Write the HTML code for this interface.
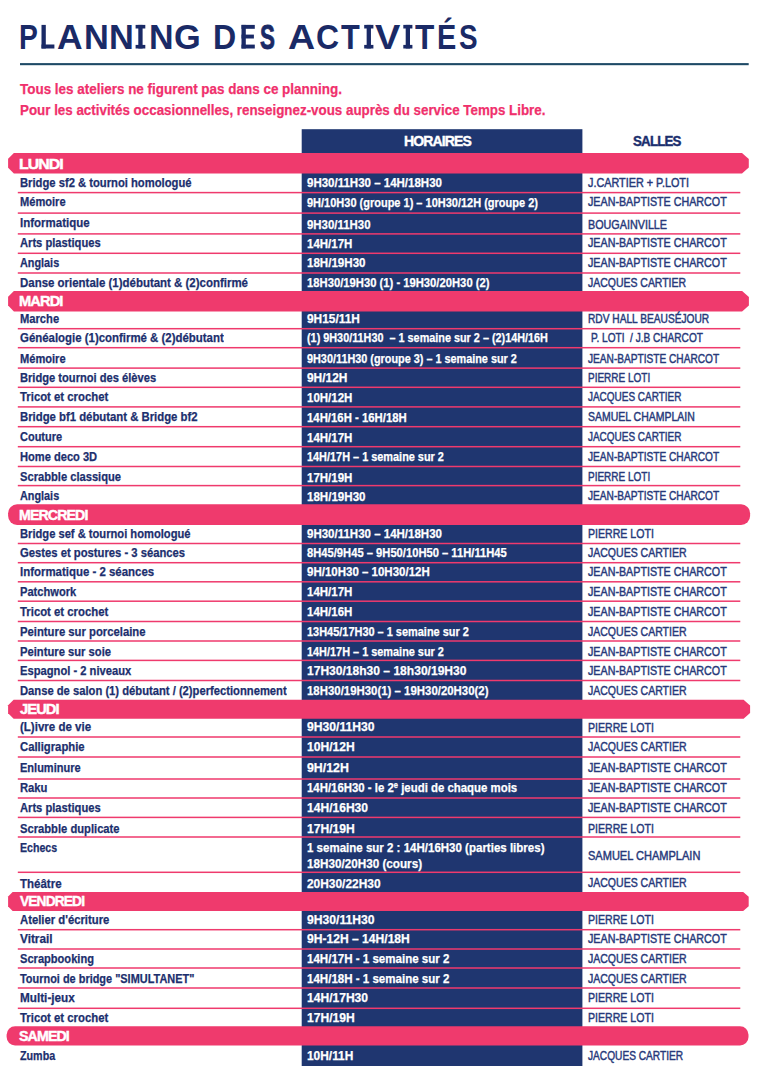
<!DOCTYPE html>
<html lang="fr"><head><meta charset="utf-8"><title>Planning des activit&eacute;s</title>
<style>
html,body{margin:0;padding:0;background:#fff;}
body{width:764px;height:1081px;position:relative;overflow:hidden;font-family:"Liberation Sans",sans-serif;}
.t{position:absolute;white-space:pre;line-height:1;transform-origin:0 50%;display:block;}
.b{position:absolute;}
</style></head><body>

<svg class="b" style="left:0;top:0" width="764" height="1081" viewBox="0 0 764 1081">
<rect x="20.00" y="63.10" width="728.70" height="2.10" fill="#1e4a66"/>
<rect x="41.50" y="24.90" width="4.30" height="23.60" fill="#1a2a66"/>
<rect x="41.50" y="44.50" width="12.90" height="4.00" fill="#1a2a66"/>
<rect x="241.50" y="24.90" width="4.30" height="23.60" fill="#1a2a66"/>
<rect x="241.50" y="24.90" width="13.30" height="3.90" fill="#1a2a66"/>
<rect x="241.50" y="34.60" width="12.40" height="3.90" fill="#1a2a66"/>
<rect x="241.50" y="44.60" width="13.30" height="3.90" fill="#1a2a66"/>
<rect x="138.30" y="24.90" width="4.30" height="23.60" fill="#1a2a66"/>
<rect x="135.60" y="24.90" width="9.70" height="3.60" fill="#1a2a66"/>
<rect x="135.60" y="44.90" width="9.70" height="3.60" fill="#1a2a66"/>
<rect x="366.65" y="24.90" width="4.30" height="23.60" fill="#1a2a66"/>
<rect x="364.20" y="24.90" width="9.20" height="3.60" fill="#1a2a66"/>
<rect x="364.20" y="44.90" width="9.20" height="3.60" fill="#1a2a66"/>
<rect x="405.70" y="24.90" width="4.30" height="23.60" fill="#1a2a66"/>
<rect x="403.30" y="24.90" width="9.10" height="3.60" fill="#1a2a66"/>
<rect x="403.30" y="44.90" width="9.10" height="3.60" fill="#1a2a66"/>
<rect x="301.70" y="129.20" width="280.70" height="936.80" fill="#1f3670"/>
<polygon fill="#ef3a6d" points="13.90,153.00 742.00,153.00 748.80,159.00 748.80,167.50 742.00,173.50 13.90,173.50 8.10,167.70 8.10,158.80"/>
<rect x="17.80" y="191.85" width="722.50" height="1.50" fill="#ef3a6d"/>
<rect x="17.80" y="212.35" width="722.50" height="1.50" fill="#ef3a6d"/>
<rect x="17.80" y="233.15" width="722.50" height="1.50" fill="#ef3a6d"/>
<rect x="17.80" y="252.55" width="722.50" height="1.50" fill="#ef3a6d"/>
<rect x="17.80" y="272.25" width="722.50" height="1.50" fill="#ef3a6d"/>
<polygon fill="#ef3a6d" points="13.90,291.00 742.10,291.00 748.90,297.00 748.90,305.40 742.10,311.40 13.90,311.40 8.10,305.60 8.10,296.80"/>
<rect x="17.80" y="327.95" width="722.50" height="1.50" fill="#ef3a6d"/>
<rect x="17.80" y="346.95" width="722.50" height="1.50" fill="#ef3a6d"/>
<rect x="17.80" y="367.35" width="722.50" height="1.50" fill="#ef3a6d"/>
<rect x="17.80" y="386.55" width="722.50" height="1.50" fill="#ef3a6d"/>
<rect x="17.80" y="406.15" width="722.50" height="1.50" fill="#ef3a6d"/>
<rect x="17.80" y="425.95" width="722.50" height="1.50" fill="#ef3a6d"/>
<rect x="17.80" y="445.95" width="722.50" height="1.50" fill="#ef3a6d"/>
<rect x="17.80" y="465.75" width="722.50" height="1.50" fill="#ef3a6d"/>
<rect x="17.80" y="484.85" width="722.50" height="1.50" fill="#ef3a6d"/>
<rect x="8.10" y="504.30" width="742.00" height="20.60" fill="#ef3a6d" rx="9"/>
<rect x="17.80" y="542.75" width="722.50" height="1.50" fill="#ef3a6d"/>
<rect x="17.80" y="561.95" width="722.50" height="1.50" fill="#ef3a6d"/>
<rect x="17.80" y="581.05" width="722.50" height="1.50" fill="#ef3a6d"/>
<rect x="17.80" y="600.45" width="722.50" height="1.50" fill="#ef3a6d"/>
<rect x="17.80" y="620.75" width="722.50" height="1.50" fill="#ef3a6d"/>
<rect x="17.80" y="640.25" width="722.50" height="1.50" fill="#ef3a6d"/>
<rect x="17.80" y="659.65" width="722.50" height="1.50" fill="#ef3a6d"/>
<rect x="17.80" y="679.75" width="722.50" height="1.50" fill="#ef3a6d"/>
<polygon fill="#ef3a6d" points="13.60,699.70 743.60,699.70 750.10,705.40 750.10,713.10 743.60,718.80 13.60,718.80 8.10,713.30 8.10,705.20"/>
<rect x="17.80" y="736.25" width="722.50" height="1.50" fill="#ef3a6d"/>
<rect x="17.80" y="756.25" width="722.50" height="1.50" fill="#ef3a6d"/>
<rect x="17.80" y="778.25" width="722.50" height="1.50" fill="#ef3a6d"/>
<rect x="17.80" y="797.25" width="722.50" height="1.50" fill="#ef3a6d"/>
<rect x="17.80" y="816.65" width="722.50" height="1.50" fill="#ef3a6d"/>
<rect x="17.80" y="836.25" width="722.50" height="1.50" fill="#ef3a6d"/>
<rect x="17.80" y="871.55" width="722.50" height="1.50" fill="#ef3a6d"/>
<polygon fill="#ef3a6d" points="12.60,892.00 743.20,892.00 748.70,896.70 748.70,906.30 743.20,911.00 12.60,911.00 8.10,906.50 8.10,896.50"/>
<rect x="17.80" y="928.95" width="722.50" height="1.50" fill="#ef3a6d"/>
<rect x="17.80" y="948.25" width="722.50" height="1.50" fill="#ef3a6d"/>
<rect x="17.80" y="967.25" width="722.50" height="1.50" fill="#ef3a6d"/>
<rect x="17.80" y="987.25" width="722.50" height="1.50" fill="#ef3a6d"/>
<rect x="17.80" y="1007.55" width="722.50" height="1.50" fill="#ef3a6d"/>
<rect x="6.60" y="1026.30" width="741.90" height="19.30" fill="#ef3a6d" rx="8.5"/>
</svg>
<span class="t" style="left:18.61px;top:19.50px;font-size:34.2px;color:#1a2a66;font-weight:bold;transform-origin:0 50%;transform:scaleX(0.8267);">P</span>
<span class="t" style="left:56.82px;top:19.50px;font-size:34.2px;color:#1a2a66;font-weight:bold;transform-origin:0 50%;transform:scaleX(1.0373);">A</span>
<span class="t" style="left:84.10px;top:19.50px;font-size:34.2px;color:#1a2a66;font-weight:bold;transform-origin:0 50%;transform:scaleX(1.0047);">N</span>
<span class="t" style="left:109.30px;top:19.50px;font-size:34.2px;color:#1a2a66;font-weight:bold;transform-origin:0 50%;transform:scaleX(1.0047);">N</span>
<span class="t" style="left:148.92px;top:19.50px;font-size:34.2px;color:#1a2a66;font-weight:bold;transform-origin:0 50%;transform:scaleX(0.9947);">N</span>
<span class="t" style="left:173.89px;top:19.50px;font-size:34.2px;color:#1a2a66;font-weight:bold;transform-origin:0 50%;transform:scaleX(1.0053);">G</span>
<span class="t" style="left:213.45px;top:19.50px;font-size:34.2px;color:#1a2a66;font-weight:bold;transform-origin:0 50%;transform:scaleX(0.9392);">D</span>
<span class="t" style="left:260.15px;top:19.50px;font-size:34.2px;color:#1a2a66;font-weight:bold;-webkit-text-stroke:0.9px #1a2a66;transform-origin:0 50%;transform:scaleX(0.6545);">S</span>
<span class="t" style="left:288.46px;top:19.50px;font-size:34.2px;color:#1a2a66;font-weight:bold;transform-origin:0 50%;transform:scaleX(1.0983);">A</span>
<span class="t" style="left:315.99px;top:19.50px;font-size:34.2px;color:#1a2a66;font-weight:bold;transform-origin:0 50%;transform:scaleX(0.9347);">C</span>
<span class="t" style="left:340.85px;top:19.50px;font-size:34.2px;color:#1a2a66;font-weight:bold;transform-origin:0 50%;transform:scaleX(0.8987);">T</span>
<span class="t" style="left:374.94px;top:19.50px;font-size:34.2px;color:#1a2a66;font-weight:bold;transform-origin:0 50%;transform:scaleX(1.1099);">V</span>
<span class="t" style="left:414.85px;top:19.50px;font-size:34.2px;color:#1a2a66;font-weight:bold;transform-origin:0 50%;transform:scaleX(0.9236);">T</span>
<span class="t" style="left:436.57px;top:19.50px;font-size:34.2px;color:#1a2a66;font-weight:bold;transform-origin:0 50%;transform:scaleX(0.8443);">É</span>
<span class="t" style="left:459.20px;top:19.50px;font-size:34.2px;color:#1a2a66;font-weight:bold;transform-origin:0 50%;transform:scaleX(0.8150);">S</span>
<span class="t" style="left:20.26px;top:81.26px;font-size:15.2px;color:#f0306c;font-weight:bold;transform:scaleX(0.8856);-webkit-text-stroke:0.25px #f0306c;">Tous les ateliers ne figurent pas dans ce planning.</span>
<span class="t" style="left:19.52px;top:101.96px;font-size:15.2px;color:#f0306c;font-weight:bold;transform:scaleX(0.8797);-webkit-text-stroke:0.25px #f0306c;">Pour les activités occasionnelles, renseignez-vous auprès du service Temps Libre.</span>
<span class="t" style="left:404.45px;top:134.26px;font-size:14.6px;color:#fff;font-weight:bold;transform:scaleX(0.9595);-webkit-text-stroke:0.4px #fff;letter-spacing:-0.9px;">HORAIRES</span>
<span class="t" style="left:633.10px;top:134.26px;font-size:14.6px;color:#1c2f6e;font-weight:bold;transform:scaleX(0.9142);-webkit-text-stroke:0.4px #1c2f6e;letter-spacing:-0.9px;">SALLES</span>
<span class="t" style="left:18.79px;top:156.56px;font-size:14.3px;color:#fff;font-weight:bold;transform:scaleX(1.1132);-webkit-text-stroke:0.45px #fff;letter-spacing:-0.9px;">LUNDI</span>
<span class="t" style="left:19.65px;top:176.97px;font-size:12.4px;color:#1c2f6e;font-weight:bold;transform:scaleX(0.9059);-webkit-text-stroke:0.25px #1c2f6e;">Bridge sf2 &amp; tournoi homologué</span>
<span class="t" style="left:306.80px;top:177.47px;font-size:12.4px;color:#fff;font-weight:bold;transform:scaleX(0.9284);-webkit-text-stroke:0.25px #fff;">9H30/11H30 – 14H/18H30</span>
<span class="t" style="left:587.90px;top:176.97px;font-size:12.4px;color:#27397a;font-weight:normal;transform:scaleX(0.8737);-webkit-text-stroke:0.45px #27397a;">J.CARTIER + P.LOTI</span>
<span class="t" style="left:19.65px;top:195.57px;font-size:12.4px;color:#1c2f6e;font-weight:bold;transform:scaleX(0.8946);-webkit-text-stroke:0.25px #1c2f6e;">Mémoire</span>
<span class="t" style="left:306.80px;top:196.57px;font-size:12.4px;color:#fff;font-weight:bold;transform:scaleX(0.8873);-webkit-text-stroke:0.25px #fff;">9H/10H30 (groupe 1) – 10H30/12H (groupe 2)</span>
<span class="t" style="left:587.90px;top:195.57px;font-size:12.4px;color:#27397a;font-weight:normal;transform:scaleX(0.8646);-webkit-text-stroke:0.45px #27397a;">JEAN-BAPTISTE CHARCOT</span>
<span class="t" style="left:19.65px;top:217.47px;font-size:12.4px;color:#1c2f6e;font-weight:bold;transform:scaleX(0.9272);-webkit-text-stroke:0.25px #1c2f6e;">Informatique</span>
<span class="t" style="left:306.80px;top:218.67px;font-size:12.4px;color:#fff;font-weight:bold;transform:scaleX(0.9218);-webkit-text-stroke:0.25px #fff;">9H30/11H30</span>
<span class="t" style="left:587.90px;top:218.67px;font-size:12.4px;color:#27397a;font-weight:normal;transform:scaleX(0.8697);-webkit-text-stroke:0.45px #27397a;">BOUGAINVILLE</span>
<span class="t" style="left:19.65px;top:237.07px;font-size:12.4px;color:#1c2f6e;font-weight:bold;transform:scaleX(0.9008);-webkit-text-stroke:0.25px #1c2f6e;">Arts plastiques</span>
<span class="t" style="left:306.80px;top:237.57px;font-size:12.4px;color:#fff;font-weight:bold;transform:scaleX(0.9268);-webkit-text-stroke:0.25px #fff;">14H/17H</span>
<span class="t" style="left:587.90px;top:237.07px;font-size:12.4px;color:#27397a;font-weight:normal;transform:scaleX(0.8646);-webkit-text-stroke:0.45px #27397a;">JEAN-BAPTISTE CHARCOT</span>
<span class="t" style="left:19.65px;top:256.57px;font-size:12.4px;color:#1c2f6e;font-weight:bold;transform:scaleX(0.8749);-webkit-text-stroke:0.25px #1c2f6e;">Anglais</span>
<span class="t" style="left:306.80px;top:257.07px;font-size:12.4px;color:#fff;font-weight:bold;transform:scaleX(0.9334);-webkit-text-stroke:0.25px #fff;">18H/19H30</span>
<span class="t" style="left:587.90px;top:256.57px;font-size:12.4px;color:#27397a;font-weight:normal;transform:scaleX(0.8646);-webkit-text-stroke:0.45px #27397a;">JEAN-BAPTISTE CHARCOT</span>
<span class="t" style="left:19.65px;top:276.77px;font-size:12.4px;color:#1c2f6e;font-weight:bold;transform:scaleX(0.9248);-webkit-text-stroke:0.25px #1c2f6e;">Danse orientale (1)débutant &amp; (2)confirmé</span>
<span class="t" style="left:306.80px;top:277.27px;font-size:12.4px;color:#fff;font-weight:bold;transform:scaleX(0.9074);-webkit-text-stroke:0.25px #fff;">18H30/19H30 (1) - 19H30/20H30 (2)</span>
<span class="t" style="left:587.90px;top:276.77px;font-size:12.4px;color:#27397a;font-weight:normal;transform:scaleX(0.8445);-webkit-text-stroke:0.45px #27397a;">JACQUES CARTIER</span>
<span class="t" style="left:18.85px;top:294.41px;font-size:14.3px;color:#fff;font-weight:bold;transform:scaleX(1.0262);-webkit-text-stroke:0.45px #fff;letter-spacing:-0.9px;">MARDI</span>
<span class="t" style="left:19.65px;top:313.07px;font-size:12.4px;color:#1c2f6e;font-weight:bold;transform:scaleX(0.9010);-webkit-text-stroke:0.25px #1c2f6e;">Marche</span>
<span class="t" style="left:306.80px;top:313.07px;font-size:12.4px;color:#fff;font-weight:bold;transform:scaleX(0.9588);-webkit-text-stroke:0.25px #fff;">9H15/11H</span>
<span class="t" style="left:587.90px;top:313.07px;font-size:12.4px;color:#27397a;font-weight:normal;transform:scaleX(0.8208);-webkit-text-stroke:0.45px #27397a;">RDV HALL BEAUSÉJOUR</span>
<span class="t" style="left:19.65px;top:332.07px;font-size:12.4px;color:#1c2f6e;font-weight:bold;transform:scaleX(0.9218);-webkit-text-stroke:0.25px #1c2f6e;">Généalogie (1)confirmé &amp; (2)débutant</span>
<span class="t" style="left:306.80px;top:332.37px;font-size:12.4px;color:#fff;font-weight:bold;transform:scaleX(0.8745);-webkit-text-stroke:0.25px #fff;">(1) 9H30/11H30  – 1 semaine sur 2 – (2)14H/16H</span>
<span class="t" style="left:590.70px;top:332.07px;font-size:12.4px;color:#27397a;font-weight:normal;transform:scaleX(0.8141);-webkit-text-stroke:0.45px #27397a;">P. LOTI  / J.B CHARCOT</span>
<span class="t" style="left:19.65px;top:352.87px;font-size:12.4px;color:#1c2f6e;font-weight:bold;transform:scaleX(0.8946);-webkit-text-stroke:0.25px #1c2f6e;">Mémoire</span>
<span class="t" style="left:306.80px;top:352.87px;font-size:12.4px;color:#fff;font-weight:bold;transform:scaleX(0.8756);-webkit-text-stroke:0.25px #fff;">9H30/11H30 (groupe 3) – 1 semaine sur 2</span>
<span class="t" style="left:587.90px;top:352.87px;font-size:12.4px;color:#27397a;font-weight:normal;transform:scaleX(0.8172);-webkit-text-stroke:0.45px #27397a;">JEAN-BAPTISTE CHARCOT</span>
<span class="t" style="left:19.65px;top:371.57px;font-size:12.4px;color:#1c2f6e;font-weight:bold;transform:scaleX(0.8984);-webkit-text-stroke:0.25px #1c2f6e;">Bridge tournoi des élèves</span>
<span class="t" style="left:306.80px;top:372.17px;font-size:12.4px;color:#fff;font-weight:bold;transform:scaleX(0.9605);-webkit-text-stroke:0.25px #fff;">9H/12H</span>
<span class="t" style="left:587.90px;top:371.57px;font-size:12.4px;color:#27397a;font-weight:normal;transform:scaleX(0.8071);-webkit-text-stroke:0.45px #27397a;">PIERRE LOTI</span>
<span class="t" style="left:19.65px;top:390.97px;font-size:12.4px;color:#1c2f6e;font-weight:bold;transform:scaleX(0.9161);-webkit-text-stroke:0.25px #1c2f6e;">Tricot et crochet</span>
<span class="t" style="left:306.80px;top:391.77px;font-size:12.4px;color:#fff;font-weight:bold;transform:scaleX(0.9268);-webkit-text-stroke:0.25px #fff;">10H/12H</span>
<span class="t" style="left:587.90px;top:390.97px;font-size:12.4px;color:#27397a;font-weight:normal;transform:scaleX(0.8039);-webkit-text-stroke:0.45px #27397a;">JACQUES CARTIER</span>
<span class="t" style="left:19.65px;top:411.47px;font-size:12.4px;color:#1c2f6e;font-weight:bold;transform:scaleX(0.9146);-webkit-text-stroke:0.25px #1c2f6e;">Bridge bf1 débutant &amp; Bridge bf2</span>
<span class="t" style="left:306.80px;top:412.07px;font-size:12.4px;color:#fff;font-weight:bold;transform:scaleX(0.9169);-webkit-text-stroke:0.25px #fff;">14H/16H - 16H/18H</span>
<span class="t" style="left:587.90px;top:411.47px;font-size:12.4px;color:#27397a;font-weight:normal;transform:scaleX(0.8455);-webkit-text-stroke:0.45px #27397a;">SAMUEL CHAMPLAIN</span>
<span class="t" style="left:19.65px;top:431.07px;font-size:12.4px;color:#1c2f6e;font-weight:bold;transform:scaleX(0.8861);-webkit-text-stroke:0.25px #1c2f6e;">Couture</span>
<span class="t" style="left:306.80px;top:431.67px;font-size:12.4px;color:#fff;font-weight:bold;transform:scaleX(0.9268);-webkit-text-stroke:0.25px #fff;">14H/17H</span>
<span class="t" style="left:587.90px;top:431.07px;font-size:12.4px;color:#27397a;font-weight:normal;transform:scaleX(0.8039);-webkit-text-stroke:0.45px #27397a;">JACQUES CARTIER</span>
<span class="t" style="left:19.65px;top:450.87px;font-size:12.4px;color:#1c2f6e;font-weight:bold;transform:scaleX(0.8963);-webkit-text-stroke:0.25px #1c2f6e;">Home deco 3D</span>
<span class="t" style="left:306.80px;top:450.87px;font-size:12.4px;color:#fff;font-weight:bold;transform:scaleX(0.8796);-webkit-text-stroke:0.25px #fff;">14H/17H – 1 semaine sur 2</span>
<span class="t" style="left:587.90px;top:450.87px;font-size:12.4px;color:#27397a;font-weight:normal;transform:scaleX(0.8172);-webkit-text-stroke:0.45px #27397a;">JEAN-BAPTISTE CHARCOT</span>
<span class="t" style="left:19.65px;top:471.07px;font-size:12.4px;color:#1c2f6e;font-weight:bold;transform:scaleX(0.9001);-webkit-text-stroke:0.25px #1c2f6e;">Scrabble classique</span>
<span class="t" style="left:306.80px;top:471.77px;font-size:12.4px;color:#fff;font-weight:bold;transform:scaleX(0.9268);-webkit-text-stroke:0.25px #fff;">17H/19H</span>
<span class="t" style="left:587.90px;top:471.07px;font-size:12.4px;color:#27397a;font-weight:normal;transform:scaleX(0.8071);-webkit-text-stroke:0.45px #27397a;">PIERRE LOTI</span>
<span class="t" style="left:19.65px;top:490.37px;font-size:12.4px;color:#1c2f6e;font-weight:bold;transform:scaleX(0.8749);-webkit-text-stroke:0.25px #1c2f6e;">Anglais</span>
<span class="t" style="left:306.80px;top:491.07px;font-size:12.4px;color:#fff;font-weight:bold;transform:scaleX(0.9334);-webkit-text-stroke:0.25px #fff;">18H/19H30</span>
<span class="t" style="left:587.90px;top:490.37px;font-size:12.4px;color:#27397a;font-weight:normal;transform:scaleX(0.8172);-webkit-text-stroke:0.45px #27397a;">JEAN-BAPTISTE CHARCOT</span>
<span class="t" style="left:18.87px;top:507.56px;font-size:14.3px;color:#fff;font-weight:bold;transform:scaleX(0.9911);-webkit-text-stroke:0.45px #fff;letter-spacing:-0.9px;">MERCREDI</span>
<span class="t" style="left:19.65px;top:527.57px;font-size:12.4px;color:#1c2f6e;font-weight:bold;transform:scaleX(0.9006);-webkit-text-stroke:0.25px #1c2f6e;">Bridge sef &amp; tournoi homologué</span>
<span class="t" style="left:306.80px;top:527.57px;font-size:12.4px;color:#fff;font-weight:bold;transform:scaleX(0.9284);-webkit-text-stroke:0.25px #fff;">9H30/11H30 – 14H/18H30</span>
<span class="t" style="left:587.90px;top:527.57px;font-size:12.4px;color:#27397a;font-weight:normal;transform:scaleX(0.8543);-webkit-text-stroke:0.45px #27397a;">PIERRE LOTI</span>
<span class="t" style="left:19.65px;top:546.87px;font-size:12.4px;color:#1c2f6e;font-weight:bold;transform:scaleX(0.9079);-webkit-text-stroke:0.25px #1c2f6e;">Gestes et postures - 3 séances</span>
<span class="t" style="left:306.80px;top:546.87px;font-size:12.4px;color:#fff;font-weight:bold;transform:scaleX(0.9033);-webkit-text-stroke:0.25px #fff;">8H45/9H45 – 9H50/10H50 – 11H/11H45</span>
<span class="t" style="left:587.90px;top:546.87px;font-size:12.4px;color:#27397a;font-weight:normal;transform:scaleX(0.8488);-webkit-text-stroke:0.45px #27397a;">JACQUES CARTIER</span>
<span class="t" style="left:19.65px;top:566.07px;font-size:12.4px;color:#1c2f6e;font-weight:bold;transform:scaleX(0.9230);-webkit-text-stroke:0.25px #1c2f6e;">Informatique - 2 séances</span>
<span class="t" style="left:306.80px;top:566.07px;font-size:12.4px;color:#fff;font-weight:bold;transform:scaleX(0.9282);-webkit-text-stroke:0.25px #fff;">9H/10H30 – 10H30/12H</span>
<span class="t" style="left:587.90px;top:566.07px;font-size:12.4px;color:#27397a;font-weight:normal;transform:scaleX(0.8646);-webkit-text-stroke:0.45px #27397a;">JEAN-BAPTISTE CHARCOT</span>
<span class="t" style="left:19.65px;top:586.27px;font-size:12.4px;color:#1c2f6e;font-weight:bold;transform:scaleX(0.8966);-webkit-text-stroke:0.25px #1c2f6e;">Patchwork</span>
<span class="t" style="left:306.80px;top:586.27px;font-size:12.4px;color:#fff;font-weight:bold;transform:scaleX(0.9268);-webkit-text-stroke:0.25px #fff;">14H/17H</span>
<span class="t" style="left:587.90px;top:586.27px;font-size:12.4px;color:#27397a;font-weight:normal;transform:scaleX(0.8646);-webkit-text-stroke:0.45px #27397a;">JEAN-BAPTISTE CHARCOT</span>
<span class="t" style="left:19.65px;top:606.07px;font-size:12.4px;color:#1c2f6e;font-weight:bold;transform:scaleX(0.9161);-webkit-text-stroke:0.25px #1c2f6e;">Tricot et crochet</span>
<span class="t" style="left:306.80px;top:606.07px;font-size:12.4px;color:#fff;font-weight:bold;transform:scaleX(0.9268);-webkit-text-stroke:0.25px #fff;">14H/16H</span>
<span class="t" style="left:587.90px;top:606.07px;font-size:12.4px;color:#27397a;font-weight:normal;transform:scaleX(0.8646);-webkit-text-stroke:0.45px #27397a;">JEAN-BAPTISTE CHARCOT</span>
<span class="t" style="left:19.65px;top:625.57px;font-size:12.4px;color:#1c2f6e;font-weight:bold;transform:scaleX(0.9115);-webkit-text-stroke:0.25px #1c2f6e;">Peinture sur porcelaine</span>
<span class="t" style="left:306.80px;top:625.57px;font-size:12.4px;color:#fff;font-weight:bold;transform:scaleX(0.8836);-webkit-text-stroke:0.25px #fff;">13H45/17H30 – 1 semaine sur 2</span>
<span class="t" style="left:587.90px;top:625.57px;font-size:12.4px;color:#27397a;font-weight:normal;transform:scaleX(0.8488);-webkit-text-stroke:0.45px #27397a;">JACQUES CARTIER</span>
<span class="t" style="left:19.65px;top:645.77px;font-size:12.4px;color:#1c2f6e;font-weight:bold;transform:scaleX(0.9057);-webkit-text-stroke:0.25px #1c2f6e;">Peinture sur soie</span>
<span class="t" style="left:306.80px;top:645.77px;font-size:12.4px;color:#fff;font-weight:bold;transform:scaleX(0.8796);-webkit-text-stroke:0.25px #fff;">14H/17H – 1 semaine sur 2</span>
<span class="t" style="left:587.90px;top:645.77px;font-size:12.4px;color:#27397a;font-weight:normal;transform:scaleX(0.8646);-webkit-text-stroke:0.45px #27397a;">JEAN-BAPTISTE CHARCOT</span>
<span class="t" style="left:19.65px;top:665.07px;font-size:12.4px;color:#1c2f6e;font-weight:bold;transform:scaleX(0.9025);-webkit-text-stroke:0.25px #1c2f6e;">Espagnol - 2 niveaux</span>
<span class="t" style="left:306.80px;top:665.07px;font-size:12.4px;color:#fff;font-weight:bold;transform:scaleX(0.9725);-webkit-text-stroke:0.25px #fff;">17H30/18h30 – 18h30/19H30</span>
<span class="t" style="left:587.90px;top:665.07px;font-size:12.4px;color:#27397a;font-weight:normal;transform:scaleX(0.8646);-webkit-text-stroke:0.45px #27397a;">JEAN-BAPTISTE CHARCOT</span>
<span class="t" style="left:19.65px;top:684.97px;font-size:12.4px;color:#1c2f6e;font-weight:bold;transform:scaleX(0.9050);-webkit-text-stroke:0.25px #1c2f6e;">Danse de salon (1) débutant / (2)perfectionnement</span>
<span class="t" style="left:306.80px;top:684.97px;font-size:12.4px;color:#fff;font-weight:bold;transform:scaleX(0.9214);-webkit-text-stroke:0.25px #fff;">18H30/19H30(1) – 19H30/20H30(2)</span>
<span class="t" style="left:587.90px;top:684.97px;font-size:12.4px;color:#27397a;font-weight:normal;transform:scaleX(0.8488);-webkit-text-stroke:0.45px #27397a;">JACQUES CARTIER</span>
<span class="t" style="left:19.61px;top:701.71px;font-size:14.3px;color:#fff;font-weight:bold;transform:scaleX(1.0292);-webkit-text-stroke:0.45px #fff;letter-spacing:-0.9px;">JEUDI</span>
<span class="t" style="left:19.65px;top:720.97px;font-size:12.4px;color:#1c2f6e;font-weight:bold;transform:scaleX(0.9298);-webkit-text-stroke:0.25px #1c2f6e;">(L)ivre de vie</span>
<span class="t" style="left:306.80px;top:720.97px;font-size:12.4px;color:#fff;font-weight:bold;transform:scaleX(0.9801);-webkit-text-stroke:0.25px #fff;">9H30/11H30</span>
<span class="t" style="left:587.90px;top:721.67px;font-size:12.4px;color:#27397a;font-weight:normal;transform:scaleX(0.8543);-webkit-text-stroke:0.45px #27397a;">PIERRE LOTI</span>
<span class="t" style="left:19.65px;top:740.97px;font-size:12.4px;color:#1c2f6e;font-weight:bold;transform:scaleX(0.9105);-webkit-text-stroke:0.25px #1c2f6e;">Calligraphie</span>
<span class="t" style="left:306.80px;top:740.97px;font-size:12.4px;color:#fff;font-weight:bold;transform:scaleX(0.9786);-webkit-text-stroke:0.25px #fff;">10H/12H</span>
<span class="t" style="left:587.90px;top:740.97px;font-size:12.4px;color:#27397a;font-weight:normal;transform:scaleX(0.8488);-webkit-text-stroke:0.45px #27397a;">JACQUES CARTIER</span>
<span class="t" style="left:19.65px;top:761.77px;font-size:12.4px;color:#1c2f6e;font-weight:bold;transform:scaleX(0.8887);-webkit-text-stroke:0.25px #1c2f6e;">Enluminure</span>
<span class="t" style="left:306.80px;top:761.77px;font-size:12.4px;color:#fff;font-weight:bold;transform:scaleX(0.9968);-webkit-text-stroke:0.25px #fff;">9H/12H</span>
<span class="t" style="left:587.90px;top:761.77px;font-size:12.4px;color:#27397a;font-weight:normal;transform:scaleX(0.8646);-webkit-text-stroke:0.45px #27397a;">JEAN-BAPTISTE CHARCOT</span>
<span class="t" style="left:19.65px;top:782.07px;font-size:12.4px;color:#1c2f6e;font-weight:bold;transform:scaleX(0.9062);-webkit-text-stroke:0.25px #1c2f6e;">Raku</span>
<span class="t" style="left:306.80px;top:782.07px;font-size:12.4px;color:#fff;font-weight:bold;transform:scaleX(0.9203);-webkit-text-stroke:0.25px #fff;">14H/16H30 - le 2<span style="font-size:66%;position:relative;top:-0.5em">e</span> jeudi de chaque mois</span>
<span class="t" style="left:587.90px;top:782.07px;font-size:12.4px;color:#27397a;font-weight:normal;transform:scaleX(0.8646);-webkit-text-stroke:0.45px #27397a;">JEAN-BAPTISTE CHARCOT</span>
<span class="t" style="left:19.65px;top:802.47px;font-size:12.4px;color:#1c2f6e;font-weight:bold;transform:scaleX(0.9008);-webkit-text-stroke:0.25px #1c2f6e;">Arts plastiques</span>
<span class="t" style="left:306.80px;top:802.47px;font-size:12.4px;color:#fff;font-weight:bold;transform:scaleX(0.9735);-webkit-text-stroke:0.25px #fff;">14H/16H30</span>
<span class="t" style="left:587.90px;top:802.47px;font-size:12.4px;color:#27397a;font-weight:normal;transform:scaleX(0.8646);-webkit-text-stroke:0.45px #27397a;">JEAN-BAPTISTE CHARCOT</span>
<span class="t" style="left:19.65px;top:822.57px;font-size:12.4px;color:#1c2f6e;font-weight:bold;transform:scaleX(0.9035);-webkit-text-stroke:0.25px #1c2f6e;">Scrabble duplicate</span>
<span class="t" style="left:306.80px;top:822.57px;font-size:12.4px;color:#fff;font-weight:bold;transform:scaleX(0.9786);-webkit-text-stroke:0.25px #fff;">17H/19H</span>
<span class="t" style="left:587.90px;top:822.57px;font-size:12.4px;color:#27397a;font-weight:normal;transform:scaleX(0.8543);-webkit-text-stroke:0.45px #27397a;">PIERRE LOTI</span>
<span class="t" style="left:19.65px;top:842.07px;font-size:12.4px;color:#1c2f6e;font-weight:bold;transform:scaleX(0.8560);-webkit-text-stroke:0.25px #1c2f6e;">Echecs</span>
<span class="t" style="left:306.80px;top:842.27px;font-size:12.4px;color:#fff;font-weight:bold;transform:scaleX(0.9294);-webkit-text-stroke:0.25px #fff;">1 semaine sur 2 : 14H/16H30 (parties libres)</span>
<span class="t" style="left:306.80px;top:857.77px;font-size:12.4px;color:#fff;font-weight:bold;transform:scaleX(0.9440);-webkit-text-stroke:0.25px #fff;">18H30/20H30 (cours)</span>
<span class="t" style="left:587.90px;top:849.77px;font-size:12.4px;color:#27397a;font-weight:normal;transform:scaleX(0.8901);-webkit-text-stroke:0.45px #27397a;">SAMUEL CHAMPLAIN</span>
<span class="t" style="left:19.65px;top:877.57px;font-size:12.4px;color:#1c2f6e;font-weight:bold;transform:scaleX(0.9293);-webkit-text-stroke:0.25px #1c2f6e;">Théâtre</span>
<span class="t" style="left:306.80px;top:877.57px;font-size:12.4px;color:#fff;font-weight:bold;transform:scaleX(0.9613);-webkit-text-stroke:0.25px #fff;">20H30/22H30</span>
<span class="t" style="left:587.90px;top:876.87px;font-size:12.4px;color:#27397a;font-weight:normal;transform:scaleX(0.8488);-webkit-text-stroke:0.45px #27397a;">JACQUES CARTIER</span>
<span class="t" style="left:19.72px;top:894.26px;font-size:14.3px;color:#fff;font-weight:bold;transform:scaleX(0.9613);-webkit-text-stroke:0.45px #fff;letter-spacing:-0.9px;">VENDREDI</span>
<span class="t" style="left:19.65px;top:914.17px;font-size:12.4px;color:#1c2f6e;font-weight:bold;transform:scaleX(0.9120);-webkit-text-stroke:0.25px #1c2f6e;">Atelier d&#x27;écriture</span>
<span class="t" style="left:306.80px;top:914.17px;font-size:12.4px;color:#fff;font-weight:bold;transform:scaleX(0.9801);-webkit-text-stroke:0.25px #fff;">9H30/11H30</span>
<span class="t" style="left:587.90px;top:914.17px;font-size:12.4px;color:#27397a;font-weight:normal;transform:scaleX(0.8543);-webkit-text-stroke:0.45px #27397a;">PIERRE LOTI</span>
<span class="t" style="left:19.65px;top:932.77px;font-size:12.4px;color:#1c2f6e;font-weight:bold;transform:scaleX(0.9513);-webkit-text-stroke:0.25px #1c2f6e;">Vitrail</span>
<span class="t" style="left:306.80px;top:932.77px;font-size:12.4px;color:#fff;font-weight:bold;transform:scaleX(0.9757);-webkit-text-stroke:0.25px #fff;">9H-12H – 14H/18H</span>
<span class="t" style="left:587.90px;top:932.77px;font-size:12.4px;color:#27397a;font-weight:normal;transform:scaleX(0.8646);-webkit-text-stroke:0.45px #27397a;">JEAN-BAPTISTE CHARCOT</span>
<span class="t" style="left:19.65px;top:952.57px;font-size:12.4px;color:#1c2f6e;font-weight:bold;transform:scaleX(0.8948);-webkit-text-stroke:0.25px #1c2f6e;">Scrapbooking</span>
<span class="t" style="left:306.80px;top:952.57px;font-size:12.4px;color:#fff;font-weight:bold;transform:scaleX(0.9316);-webkit-text-stroke:0.25px #fff;">14H/17H - 1 semaine sur 2</span>
<span class="t" style="left:587.90px;top:952.57px;font-size:12.4px;color:#27397a;font-weight:normal;transform:scaleX(0.8488);-webkit-text-stroke:0.45px #27397a;">JACQUES CARTIER</span>
<span class="t" style="left:19.65px;top:972.97px;font-size:12.4px;color:#1c2f6e;font-weight:bold;transform:scaleX(0.8823);-webkit-text-stroke:0.25px #1c2f6e;">Tournoi de bridge &quot;SIMULTANET&quot;</span>
<span class="t" style="left:306.80px;top:972.97px;font-size:12.4px;color:#fff;font-weight:bold;transform:scaleX(0.9316);-webkit-text-stroke:0.25px #fff;">14H/18H - 1 semaine sur 2</span>
<span class="t" style="left:587.90px;top:972.97px;font-size:12.4px;color:#27397a;font-weight:normal;transform:scaleX(0.8488);-webkit-text-stroke:0.45px #27397a;">JACQUES CARTIER</span>
<span class="t" style="left:19.65px;top:991.77px;font-size:12.4px;color:#1c2f6e;font-weight:bold;transform:scaleX(0.9473);-webkit-text-stroke:0.25px #1c2f6e;">Multi-jeux</span>
<span class="t" style="left:306.80px;top:991.77px;font-size:12.4px;color:#fff;font-weight:bold;transform:scaleX(0.9735);-webkit-text-stroke:0.25px #fff;">14H/17H30</span>
<span class="t" style="left:587.90px;top:991.77px;font-size:12.4px;color:#27397a;font-weight:normal;transform:scaleX(0.8543);-webkit-text-stroke:0.45px #27397a;">PIERRE LOTI</span>
<span class="t" style="left:19.65px;top:1011.67px;font-size:12.4px;color:#1c2f6e;font-weight:bold;transform:scaleX(0.9161);-webkit-text-stroke:0.25px #1c2f6e;">Tricot et crochet</span>
<span class="t" style="left:306.80px;top:1011.67px;font-size:12.4px;color:#fff;font-weight:bold;transform:scaleX(0.9786);-webkit-text-stroke:0.25px #fff;">17H/19H</span>
<span class="t" style="left:587.90px;top:1011.67px;font-size:12.4px;color:#27397a;font-weight:normal;transform:scaleX(0.8543);-webkit-text-stroke:0.45px #27397a;">PIERRE LOTI</span>
<span class="t" style="left:19.41px;top:1028.86px;font-size:14.3px;color:#fff;font-weight:bold;transform:scaleX(0.9941);-webkit-text-stroke:0.45px #fff;letter-spacing:-0.9px;">SAMEDI</span>
<span class="t" style="left:19.65px;top:1049.77px;font-size:12.4px;color:#1c2f6e;font-weight:bold;transform:scaleX(0.8654);-webkit-text-stroke:0.25px #1c2f6e;">Zumba</span>
<span class="t" style="left:306.80px;top:1049.77px;font-size:12.4px;color:#fff;font-weight:bold;transform:scaleX(0.9612);-webkit-text-stroke:0.25px #fff;">10H/11H</span>
<span class="t" style="left:587.90px;top:1049.77px;font-size:12.4px;color:#27397a;font-weight:normal;transform:scaleX(0.8186);-webkit-text-stroke:0.45px #27397a;">JACQUES CARTIER</span>
</body></html>
